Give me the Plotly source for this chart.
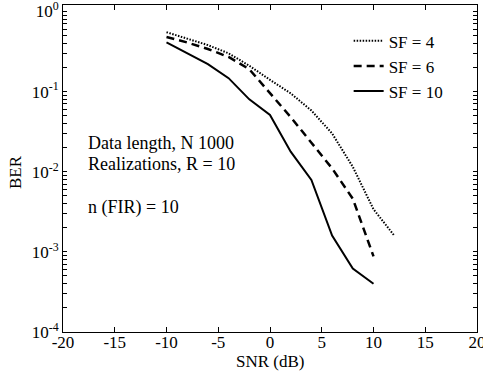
import plotly.graph_objects as go

snr_sf4 = [-10, -8, -6, -4, -2, 0, 2, 4, 6, 8, 10, 12]
ber_sf4 = [0.55, 0.46, 0.38, 0.30, 0.21, 0.14, 0.095, 0.058, 0.030, 0.0115, 0.0034, 0.0016]

snr_sf6 = [-10, -8, -6, -4, -2, 0, 2, 4, 6, 8, 9, 10]
ber_sf6 = [0.48, 0.41, 0.34, 0.27, 0.19, 0.095, 0.048, 0.023, 0.011, 0.0046, 0.0020, 0.00088]

snr_sf10 = [-10, -8, -6, -4, -2, 0, 2, 4, 6, 8, 10]
ber_sf10 = [0.41, 0.30, 0.22, 0.147, 0.080, 0.051, 0.0178, 0.0079, 0.0016, 0.00062, 0.0004]

x_ticks = [-20, -15, -10, -5, 0, 5, 10, 15, 20]
x_labels = ["-20", "-15", "-10", "-5", "0", "5", "10", "15", "20"]
y_decades = [-4, -3, -2, -1, 0]

FONT = "Liberation Serif"

fig = go.Figure()
fig.add_trace(go.Scatter(x=snr_sf4, y=ber_sf4, mode="lines", name="SF = 4",
                         line=dict(color="black", width=2, dash="1.5px,1.5px")))
fig.add_trace(go.Scatter(x=snr_sf6, y=ber_sf6, mode="lines", name="SF = 6",
                         line=dict(color="black", width=2.5, dash="8px,5px")))
fig.add_trace(go.Scatter(x=snr_sf10, y=ber_sf10, mode="lines", name="SF = 10",
                         line=dict(color="black", width=2)))

yvals, ytext = [], []
for d in y_decades:
    yvals.append(10.0 ** d)
    ytext.append("10<sup>%d</sup>" % d)
    if d < 0:
        for m in range(2, 10):
            yvals.append(m * 10.0 ** d)
            ytext.append("")

fig.update_layout(
    width=483, height=385,
    margin=dict(l=63, r=6, t=5, b=53, autoexpand=False),
    paper_bgcolor="white", plot_bgcolor="white",
    font=dict(family=FONT, size=17, color="black"),
    showlegend=True,
    legend=dict(x=0.69, y=0.944, xanchor="left", yanchor="top",
                bgcolor="rgba(0,0,0,0)", borderwidth=0,
                font=dict(family=FONT, size=17, color="black"), tracegroupgap=0,
                itemwidth=30),
    xaxis=dict(range=[-20, 20], tickvals=x_ticks, ticktext=x_labels,
               ticks="inside", ticklen=5, tickcolor="black", automargin=False,
               ticklabeloverflow="allow", ticklabelstandoff=-5,
               showline=True, linecolor="black", linewidth=1, mirror="ticks",
               showgrid=False, zeroline=False,
               tickfont=dict(family=FONT, size=17)),
    yaxis=dict(type="log", range=[-4, 0.08], tickvals=yvals, ticktext=ytext,
               ticks="inside", ticklen=4, tickcolor="black", automargin=False,
               ticklabeloverflow="allow",
               showline=True, linecolor="black", linewidth=1, mirror="ticks",
               showgrid=False, zeroline=False,
               tickfont=dict(family=FONT, size=17)),
)

# axis titles placed as in the reference
fig.add_annotation(text="SNR (dB)", xref="paper", yref="paper", x=0.5,
                   y=-(361 - 332) / 327, xanchor="center", yanchor="middle",
                   showarrow=False, font=dict(family=FONT, size=17, color="black"))
fig.add_annotation(text="BER", xref="paper", yref="paper", x=-(63 - 15) / 414,
                   y=1 - (172 - 5) / 327, xanchor="center", yanchor="middle",
                   textangle=-90, showarrow=False,
                   font=dict(family=FONT, size=17, color="black"))

notes = [("Data length, N 1000", 143), ("Realizations, R = 10", 164), ("n (FIR) = 10", 207)]
for txt, ypx in notes:
    fig.add_annotation(text=txt, xref="paper", yref="paper",
                       x=(86 - 63) / 414, y=1 - (ypx - 5) / 327,
                       xanchor="left", yanchor="middle", showarrow=False,
                       font=dict(family=FONT, size=18, color="black"))

fig.write_html("out.html")
